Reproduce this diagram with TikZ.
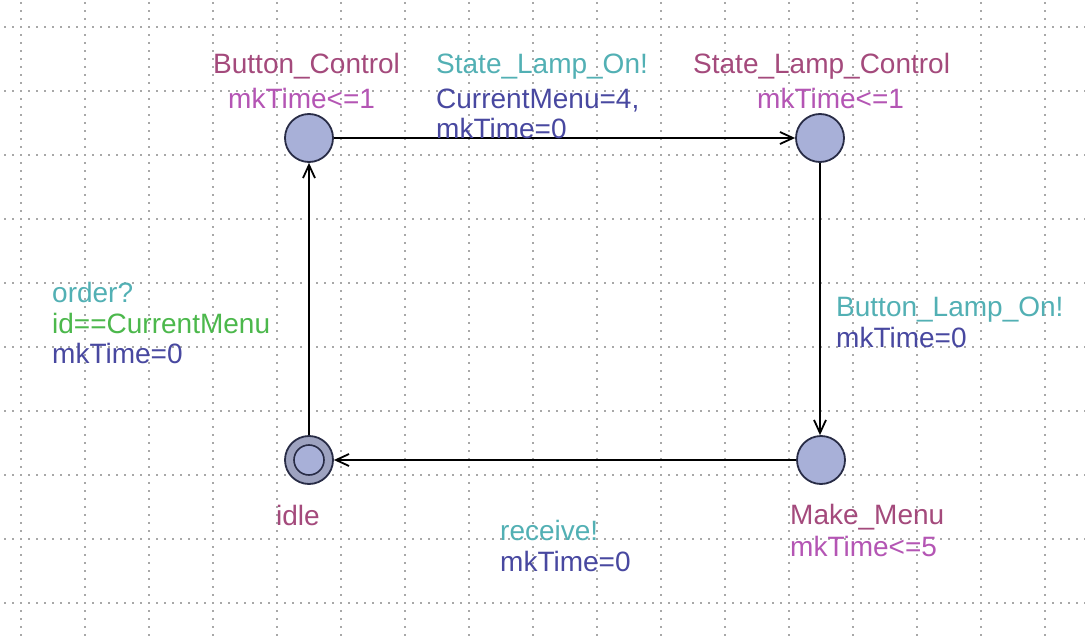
\documentclass[tikz,border=0pt]{standalone}
\usepackage{fontspec}
\setmainfont{Liberation Sans}
\usetikzlibrary{arrows.meta}
\definecolor{locfill}{RGB}{168,176,216}
\definecolor{ringfill}{RGB}{158,163,192}
\definecolor{locline}{RGB}{40,44,70}
\definecolor{namecol}{RGB}{164,74,124}
\definecolor{invcol}{RGB}{180,85,180}
\definecolor{synccol}{RGB}{82,176,180}
\definecolor{guardcol}{RGB}{76,184,76}
\definecolor{updcol}{RGB}{72,72,160}
\definecolor{dotcol}{RGB}{168,168,168}
\tikzset{
  griddots/.style={dotcol, line width=1.4pt, dash pattern=on 1.4pt off 6.6pt},
  locnode/.style={circle, draw=locline, line width=1.8pt, fill=locfill, minimum size=48pt, inner sep=0pt},
  initnode/.style={circle, draw=locline, line width=1.8pt, fill=ringfill, minimum size=48pt, inner sep=0pt},
  innernode/.style={circle, draw=locline, line width=1.6pt, fill=locfill, minimum size=30pt, inner sep=0pt},
  conn/.style={line width=1.8pt, black, -{Straight Barb[length=13pt, width=12pt, line width=1.8pt]}},
  lbltext/.style={anchor=base west, inner sep=0pt, font=\fontsize{28}{33}\selectfont},
  lname/.style={lbltext, text=namecol},
  linv/.style={lbltext, text=invcol},
  lsync/.style={lbltext, text=synccol},
  lguard/.style={lbltext, text=guardcol},
  lupd/.style={lbltext, text=updcol}
}
\begin{document}
\begin{tikzpicture}[x=1pt, y=-1pt]
\fill[white] (0,0) rectangle (1085,642);
\useasboundingbox (0,0) rectangle (1085,642);
% dotted grid
\foreach \i in {0,...,16} {
  \draw[griddots] ({21+64*\i}, 2.3) -- ({21+64*\i}, 642);
}
\foreach \j in {0,...,9} {
  \draw[griddots] (4.3, {27+64*\j}) -- (1085, {27+64*\j});
}
% locations
\node[locnode] (bc) at (309,138) {};
\node[locnode] (slc) at (820,138) {};
\node[locnode] (mm) at (821,460) {};
\node[initnode] (idle) at (309,460) {};
\node[innernode] (idlein) at (309,460) {};
% edges
\draw[conn] (bc) -- (slc);
\draw[conn] (slc.south) -- (slc.south |- mm.north);
\draw[conn] (mm) -- (idle);
\draw[conn] (idle) -- (bc);
% location labels
\node[lname] (bcname) at (213,74) {Button\_Control};
\node[linv] (bcinv) at (228,108) {mkTime<=1};
\node[lname] (slcname) at (693,74) {State\_Lamp\_Control};
\node[linv] (slcinv) at (757,108) {mkTime<=1};
\node[lname] (idlename) at (276,525) {idle};
\node[lname] (mmname) at (790,524) {Make\_Menu};
\node[linv] (mminv) at (790,556) {mkTime<=5};
% edge labels
\node[lsync] (e1sync) at (436,74) {State\_Lamp\_On!};
\node[lupd] (e1upda) at (436,108) {CurrentMenu=4,};
\node[lupd] (e1updb) at (436,138) {mkTime=0};
\node[lsync] (e2sync) at (836,316) {Button\_Lamp\_On!};
\node[lupd] (e2upd) at (836,347) {mkTime=0};
\node[lsync] (e3sync) at (500,540) {receive!};
\node[lupd] (e3upd) at (500,571) {mkTime=0};
\node[lsync] (e4sync) at (52,302) {order?};
\node[lguard] (e4guard) at (52,333) {id==CurrentMenu};
\node[lupd] (e4upd) at (52,363) {mkTime=0};
\end{tikzpicture}
\end{document}
